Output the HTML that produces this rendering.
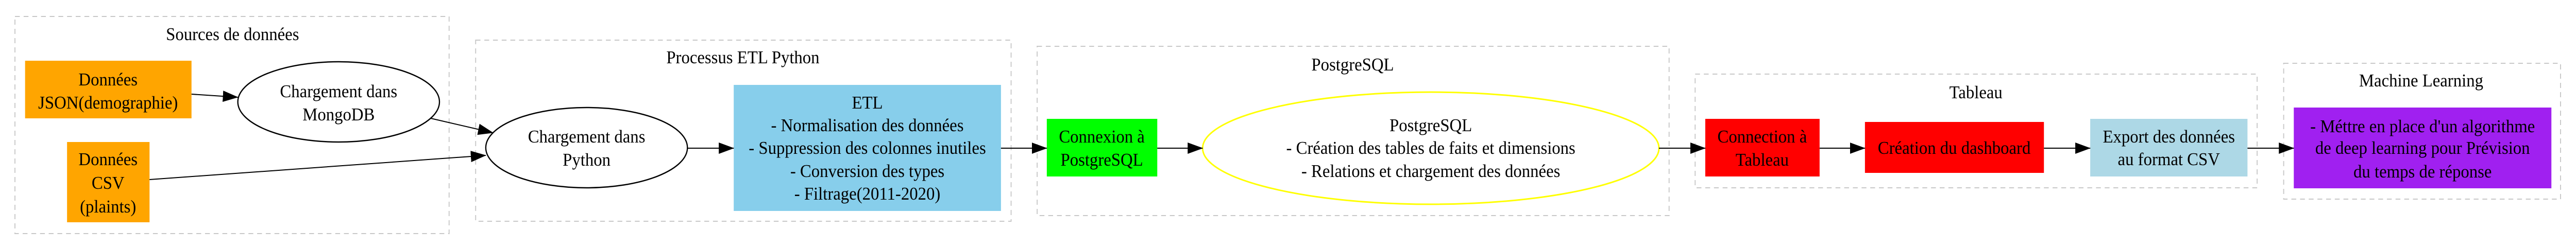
<!DOCTYPE html>
<html><head><meta charset="utf-8"><style>
html,body{margin:0;padding:0;background:#fff;overflow:hidden;width:100%;height:100%;}
svg{display:block;width:100vw;height:100vh;}
text{font-family:"Liberation Serif",serif;font-size:35px;fill:#000;text-anchor:middle;}
.cl{fill:none;stroke:#c8c8c8;stroke-width:2;stroke-dasharray:10,8;}
.e{stroke:#000;stroke-width:2;fill:none;}
</style></head><body>
<svg viewBox="0 0 5340 482" preserveAspectRatio="none" xmlns="http://www.w3.org/2000/svg">
<defs><marker id="a" markerWidth="32" markerHeight="22" refX="31" refY="11" orient="auto" markerUnits="userSpaceOnUse"><path d="M0,0 L32,11 L0,22 Z" fill="#000"/></marker></defs>
<rect class="cl" x="31" y="32" width="900" height="422"/>
<text x="482" y="78">Sources de données</text>
<rect class="cl" x="986" y="78" width="1110" height="352"/>
<text x="1540" y="123">Processus ETL Python</text>
<rect class="cl" x="2150" y="90" width="1310" height="329"/>
<text x="2804" y="137">PostgreSQL</text>
<rect class="cl" x="3514" y="144" width="1165" height="221"/>
<text x="4096" y="191">Tableau</text>
<rect class="cl" x="4734" y="123" width="574" height="264"/>
<text x="5019" y="168">Machine Learning</text>
<rect x="52" y="118" width="345" height="112" fill="#FFA500"/>
<text x="224" y="166">Données</text><text x="224" y="211">JSON(demographie)</text>
<ellipse cx="702" cy="198" rx="209" ry="78" fill="#fff" stroke="#000" stroke-width="2.5"/>
<text x="702" y="189">Chargement dans</text><text x="702" y="234">MongoDB</text>
<rect x="139" y="276" width="171" height="156" fill="#FFA500"/>
<text x="224" y="321">Données</text><text x="224" y="367">CSV</text><text x="224" y="413">(plaints)</text>
<ellipse cx="1216" cy="287" rx="209" ry="78" fill="#fff" stroke="#000" stroke-width="2.5"/>
<text x="1216" y="277">Chargement dans</text><text x="1216" y="322">Python</text>
<rect x="1521" y="165" width="554" height="245" fill="#87CEEB"/>
<text x="1798" y="211">ETL</text>
<text x="1798" y="255">- Normalisation des données</text>
<text x="1798" y="299">- Suppression des colonnes inutiles</text>
<text x="1798" y="344">- Conversion des types</text>
<text x="1798" y="388">- Filtrage(2011-2020)</text>
<rect x="2170" y="231" width="229" height="112" fill="#00FF00"/>
<text x="2284" y="277">Connexion à</text><text x="2284" y="322">PostgreSQL</text>
<ellipse cx="2966" cy="288" rx="473" ry="109" fill="#fff" stroke="#FFFF00" stroke-width="3"/>
<text x="2966" y="255">PostgreSQL</text>
<text x="2966" y="299">- Création des tables de faits et dimensions</text>
<text x="2966" y="344">- Relations et chargement des données</text>
<rect x="3535" y="231" width="237" height="112" fill="#FF0000"/>
<text x="3653" y="277">Connection à</text><text x="3653" y="322">Tableau</text>
<rect x="3866" y="237" width="371" height="99" fill="#FF0000"/>
<text x="4051" y="299">Création du dashboard</text>
<rect x="4333" y="231" width="326" height="112" fill="#ADD8E6"/>
<text x="4496" y="277">Export des données</text><text x="4496" y="321">au format CSV</text>
<rect x="4755" y="209" width="534" height="157" fill="#A020F0"/>
<text x="5022" y="257">- Méttre en place d'un algorithme</text>
<text x="5022" y="299">de deep learning pour Prévision</text>
<text x="5022" y="345">du temps de réponse</text>
<line class="e" x1="397" y1="183" x2="493" y2="189" marker-end="url(#a)"/>
<line class="e" x1="893" y1="230" x2="1022" y2="258" marker-end="url(#a)"/>
<line class="e" x1="310" y1="349" x2="1007" y2="302" marker-end="url(#a)"/>
<line class="e" x1="1425" y1="288" x2="1521" y2="288" marker-end="url(#a)"/>
<line class="e" x1="2075" y1="288" x2="2170" y2="288" marker-end="url(#a)"/>
<line class="e" x1="2399" y1="288" x2="2493" y2="288" marker-end="url(#a)"/>
<line class="e" x1="3439" y1="288" x2="3535" y2="288" marker-end="url(#a)"/>
<line class="e" x1="3772" y1="288" x2="3866" y2="288" marker-end="url(#a)"/>
<line class="e" x1="4237" y1="288" x2="4333" y2="288" marker-end="url(#a)"/>
<line class="e" x1="4659" y1="288" x2="4755" y2="288" marker-end="url(#a)"/>
</svg>
</body></html>
